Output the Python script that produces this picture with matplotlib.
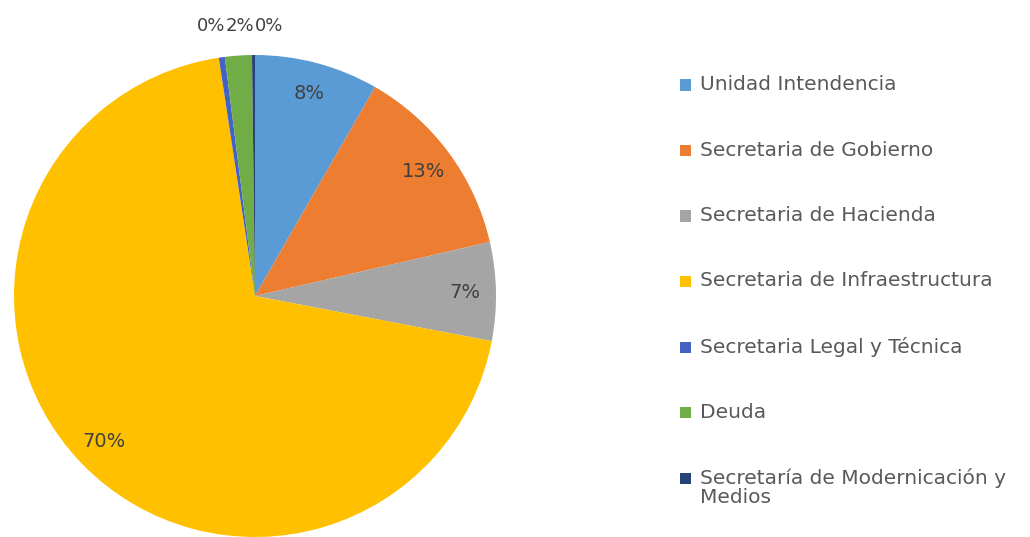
import numpy as np
import matplotlib
matplotlib.use("Agg")
import matplotlib.pyplot as plt
from matplotlib.patches import Rectangle

plt.rcParams['font.family'] = ['DejaVu Sans']

# share of budget per area (percent)
areas = ["Unidad Intendencia", "Secretaria de Gobierno", "Secretaria de Hacienda",
         "Secretaria de Infraestructura", "Secretaria Legal y Técnica", "Deuda",
         "Secretaría de Modernicación y\nMedios"]
shares = [8.3, 13.1, 6.6, 69.6, 0.4, 1.8, 0.2]
colors = ["#5B9BD5", "#ED7D31", "#A5A5A5", "#FFC000", "#4461C4", "#70AD47", "#264478"]

W, H = 1030, 537
fig = plt.figure(figsize=(W / 100, H / 100), dpi=100)

# pie centre and radius in pixels
cx, cy, r = 255, 296, 241
ax = fig.add_axes([(cx - r) / W, (H - cy - r) / H, 2 * r / W, 2 * r / H])

wedges, texts, autotexts = ax.pie(
    shares, colors=colors, startangle=90, counterclock=False,
    autopct='%.0f%%', pctdistance=0.87,
    wedgeprops=dict(linewidth=0),
    textprops=dict(color="#404040", fontsize=14))
ax.set_xlim(-1, 1)
ax.set_ylim(-1, 1)
ax.set_aspect('auto')
ax.axis('off')

# small slices get their label outside the pie, side by side above the top
small = [i for i, v in enumerate(shares) if v < 3]
for k, i in enumerate(small):
    t = autotexts[i]
    t.set_fontsize(13)
    dx = (k - (len(small) - 1) / 2) * 29 / r
    t.set_position((-15 / r + dx, 1.12))

# legend drawn by hand
y0, step = 85, 65.5
for i, (name, c) in enumerate(zip(areas, colors)):
    y = y0 + i * step
    fig.patches.append(Rectangle((680 / W, (H - y - 5.5) / H), 11 / W, 11 / H,
                                 transform=fig.transFigure, facecolor=c,
                                 edgecolor='none'))
    fig.text(700 / W, (H - y + 10) / H, name, fontsize=14.5, color="#595959",
             va='top', ha='left', linespacing=1.0)

fig.savefig("out.png", dpi=100, facecolor="white")
